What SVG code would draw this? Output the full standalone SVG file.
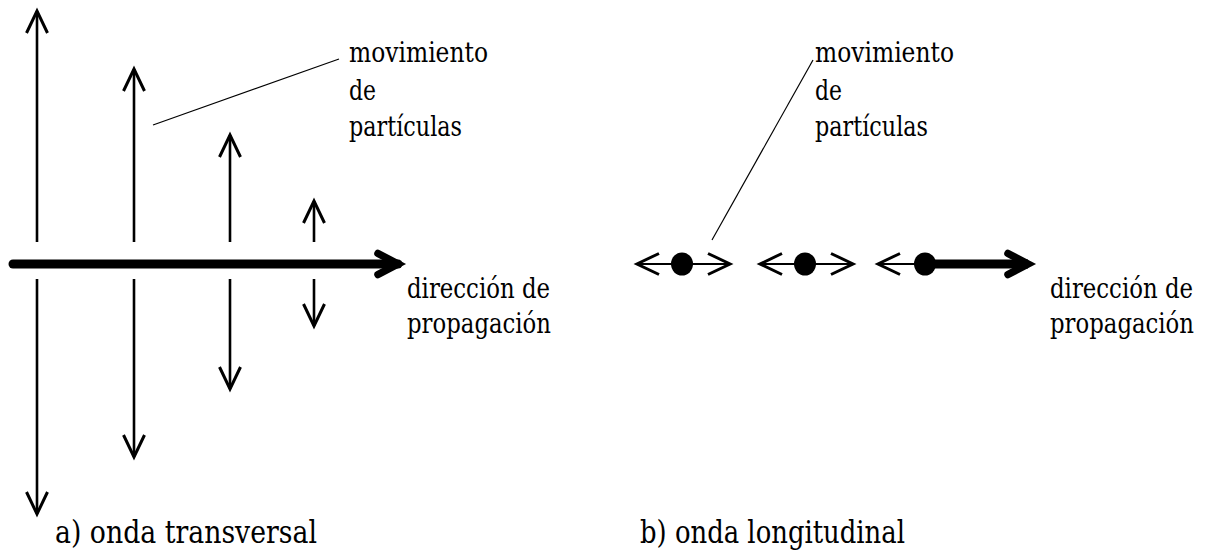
<svg xmlns="http://www.w3.org/2000/svg" width="1225" height="550" viewBox="0 0 1225 550">
  <style>
    .lbl { font-family: 'DejaVu Serif', 'Liberation Serif', serif; font-size: 27px; fill: #000; }
    .cap { font-family: 'DejaVu Serif', 'Liberation Serif', serif; font-size: 31px; fill: #000; }
    .shaft { stroke: #000; stroke-width: 2.6; fill: none; }
    .thin { stroke: #000; stroke-width: 2; fill: none; }
    .thick { stroke: #000; stroke-width: 9; fill: none; }
    .leader { stroke: #000; stroke-width: 1.2; fill: none; }
    .dot { fill: #000; }
  </style>
  <defs>
    <marker id="v" markerUnits="userSpaceOnUse" viewBox="-28 -14 32 28" refX="0" refY="0" markerWidth="32" markerHeight="28" orient="auto-start-reverse">
      <path d="M-22,-10.5 L0,0 L-22,10.5" fill="none" stroke="#000" stroke-width="3"/>
    </marker>
    <marker id="vb" markerUnits="userSpaceOnUse" viewBox="-30 -18 42 36" refX="0" refY="0" markerWidth="42" markerHeight="36" orient="auto">
      <path d="M-20,-10.5 L0,0 L-20,10.5" fill="none" stroke="#000" stroke-width="7.5" stroke-linecap="round"/>
    </marker>
  </defs>
  <rect width="1225" height="550" fill="#fff"/>

  <g id="connectors">
    <line class="shaft" x1="37" y1="242" x2="37" y2="11" marker-end="url(#v)"/>
    <line class="shaft" x1="134" y1="242" x2="134" y2="69" marker-end="url(#v)"/>
    <line class="shaft" x1="230" y1="242" x2="230" y2="135" marker-end="url(#v)"/>
    <line class="shaft" x1="314" y1="242" x2="314" y2="201" marker-end="url(#v)"/>
    <line class="shaft" x1="37" y1="279" x2="37" y2="514" marker-end="url(#v)"/>
    <line class="shaft" x1="134" y1="279" x2="134" y2="457" marker-end="url(#v)"/>
    <line class="shaft" x1="230" y1="279" x2="230" y2="389" marker-end="url(#v)"/>
    <line class="shaft" x1="314" y1="279" x2="314" y2="326" marker-end="url(#v)"/>
    <line class="thick" x1="13" y1="264" x2="398" y2="264" stroke-linecap="round" marker-end="url(#vb)"/>
    <line class="leader" x1="153" y1="125" x2="339" y2="59"/>

    <line class="thin" x1="637" y1="264" x2="730" y2="264" marker-start="url(#v)" marker-end="url(#v)"/>
    <line class="thin" x1="760" y1="264" x2="853" y2="264" marker-start="url(#v)" marker-end="url(#v)"/>
    <line class="thin" x1="878" y1="264" x2="925" y2="264" marker-start="url(#v)"/>
    <line class="thick" x1="925" y1="264" x2="1028" y2="264" marker-end="url(#vb)"/>
    <line class="leader" x1="712" y1="240" x2="813" y2="60"/>
  </g>

  <g id="particles">
    <ellipse class="dot" cx="682" cy="264" rx="11" ry="11.5"/>
    <ellipse class="dot" cx="805" cy="264" rx="11" ry="11.5"/>
    <ellipse class="dot" cx="925" cy="264" rx="11" ry="11.5"/>
  </g>

  <g id="label-mov-a">
    <text class="lbl" x="349" y="62" textLength="139" lengthAdjust="spacingAndGlyphs">movimiento</text>
    <text class="lbl" x="349" y="100" textLength="27" lengthAdjust="spacingAndGlyphs">de</text>
    <text class="lbl" x="349" y="136" textLength="113" lengthAdjust="spacingAndGlyphs">partículas</text>
  </g>
  <g id="label-dir-a">
    <text class="lbl" x="407" y="298" textLength="143" lengthAdjust="spacingAndGlyphs">dirección de</text>
    <text class="lbl" x="407" y="333" textLength="144" lengthAdjust="spacingAndGlyphs">propagación</text>
  </g>
  <g id="caption-a">
    <text class="cap" x="55" y="543" textLength="262" lengthAdjust="spacingAndGlyphs">a) onda transversal</text>
  </g>

  <g id="label-mov-b">
    <text class="lbl" x="815" y="62" textLength="139" lengthAdjust="spacingAndGlyphs">movimiento</text>
    <text class="lbl" x="815" y="100" textLength="27" lengthAdjust="spacingAndGlyphs">de</text>
    <text class="lbl" x="815" y="136" textLength="113" lengthAdjust="spacingAndGlyphs">partículas</text>
  </g>
  <g id="label-dir-b">
    <text class="lbl" x="1050" y="298" textLength="143" lengthAdjust="spacingAndGlyphs">dirección de</text>
    <text class="lbl" x="1050" y="333" textLength="144" lengthAdjust="spacingAndGlyphs">propagación</text>
  </g>
  <g id="caption-b">
    <text class="cap" x="640" y="543" textLength="265" lengthAdjust="spacingAndGlyphs">b) onda longitudinal</text>
  </g>
</svg>
